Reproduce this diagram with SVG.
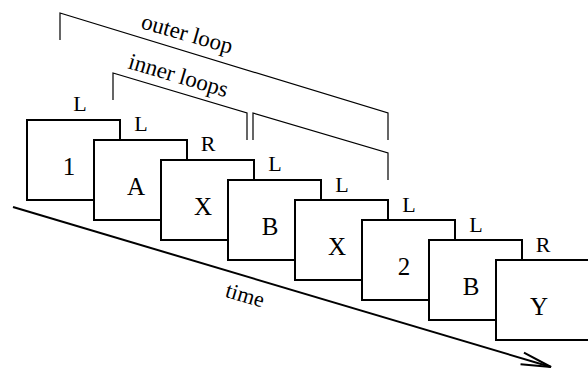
<svg xmlns="http://www.w3.org/2000/svg" width="588" height="371" viewBox="0 0 588 371">
<defs>
<style>
.box{fill:#fff;stroke:#000;stroke-width:2}
.lbl{font-family:"Liberation Serif","Times New Roman",serif;font-size:25px;text-anchor:middle;fill:#000}
.edge{font-family:"Liberation Serif","Times New Roman",serif;font-size:22px;text-anchor:middle;fill:#000}
.cap{font-family:"Liberation Serif","Times New Roman",serif;font-size:23px;fill:#000}
.brk{fill:none;stroke:#000;stroke-width:1.2}
.arr{fill:none;stroke:#000;stroke-width:2}
</style>
<marker id="head" markerUnits="userSpaceOnUse" markerWidth="40" markerHeight="20" refX="0" refY="0" viewBox="-32 -10 34 20" orient="auto" overflow="visible">
<path d="M-30,-6 L0,0 L-30,6" fill="none" stroke="#000" stroke-width="2"/>
</marker>
</defs>
<rect x="0" y="0" width="588" height="371" fill="#fff"/>
<g id="connectors">
<path class="brk" d="M60,40 V13 L388,113 V140"/>
<path class="brk" d="M113,100 V73 L247,113 V140"/>
<path class="brk" d="M253,140 V113 L388,153 V180"/>
<path class="arr" d="M13,207 L551,367" marker-end="url(#head)"/>
</g>
<g id="captions">
<text class="cap" transform="translate(140,28) rotate(16)">outer loop</text>
<text class="cap" transform="translate(127,68) rotate(16.5)">inner loops</text>
<text class="cap" transform="translate(243,302) rotate(16.5)" text-anchor="middle" style="font-size:22px">time</text>
</g>
<g id="n1"><rect class="box" x="27" y="120" width="93" height="80"/><text class="edge" x="80" y="111">L</text><text class="lbl" x="69" y="175">1</text></g>
<g id="n2"><rect class="box" x="94" y="140" width="93" height="80"/><text class="edge" x="141" y="131">L</text><text class="lbl" x="136" y="195">A</text></g>
<g id="n3"><rect class="box" x="161" y="160" width="93" height="80"/><text class="edge" x="208" y="151">R</text><text class="lbl" x="203" y="215">X</text></g>
<g id="n4"><rect class="box" x="228" y="180" width="93" height="80"/><text class="edge" x="275" y="171">L</text><text class="lbl" x="270" y="235">B</text></g>
<g id="n5"><rect class="box" x="295" y="200" width="93" height="80"/><text class="edge" x="342" y="191.5">L</text><text class="lbl" x="337" y="255">X</text></g>
<g id="n6"><rect class="box" x="362" y="220" width="93" height="80"/><text class="edge" x="409" y="211.5">L</text><text class="lbl" x="404" y="275">2</text></g>
<g id="n7"><rect class="box" x="429" y="240" width="93" height="80"/><text class="edge" x="476" y="231.5">L</text><text class="lbl" x="471" y="295">B</text></g>
<g id="n8"><rect class="box" x="496" y="260" width="93" height="80"/><text class="edge" x="543" y="251.5">R</text><text class="lbl" x="539" y="315">Y</text></g>
</svg>
